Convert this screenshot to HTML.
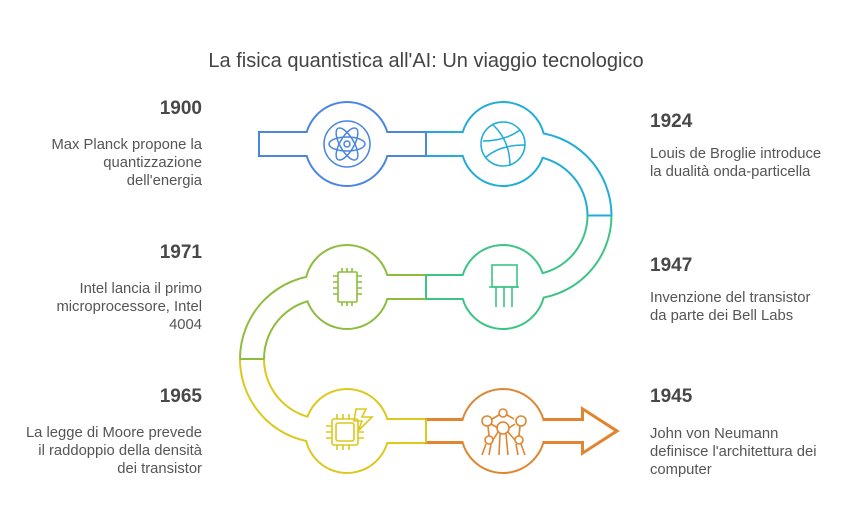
<!DOCTYPE html>
<html><head><meta charset="utf-8"><style>
body{margin:0;background:#fff;}
svg{display:block;font-family:"Liberation Sans",sans-serif;}
.y{font-size:19px;font-weight:bold;fill:#484848;}
.d{font-size:14.8px;fill:#555;}
</style></head><body>
<svg width="864" height="528" viewBox="0 0 864 528" xmlns="http://www.w3.org/2000/svg">
<text x="426" y="67" text-anchor="middle" font-size="20" fill="#444">La fisica quantistica all'AI: Un viaggio tecnologico</text>
<g fill="none" stroke-width="26">
<line x1="258" y1="144" x2="426" y2="144" stroke="#4a86e0"/>
<path d="M426,144 L528,144 A71.5,71.5 0 0 1 599.5,215.5" stroke="#22acd8"/>
<path d="M599.5,215.5 A71.5,71.5 0 0 1 528,287 L426,287" stroke="#3cc484"/>
<path d="M426,287 L324,287 A72,72 0 0 0 252,359" stroke="#8dbd3c"/>
<path d="M252,359 A72,72 0 0 0 324,431 L426,431" stroke="#dcc81e"/>
</g>
<path d="M426,419 L582,419 L582,408 L618,431 L582,454 L582,443 L426,443 Z" fill="#e08530" stroke="#e08530" stroke-width="2" stroke-linejoin="miter"/>
<circle cx="347" cy="144" r="43" fill="#4a86e0"/>
<circle cx="503" cy="144" r="43" fill="#22acd8"/>
<circle cx="503" cy="287" r="43" fill="#3cc484"/>
<circle cx="347" cy="287" r="43" fill="#8dbd3c"/>
<circle cx="347" cy="431" r="43" fill="#dcc81e"/>
<circle cx="503" cy="431" r="43" fill="#e08530"/>
<g fill="none" stroke="#fff" stroke-width="22">
<line x1="260" y1="144" x2="426" y2="144"/>
<path d="M426,144 L528,144 A71.5,71.5 0 0 1 528,287 L426,287"/>
<path d="M426,287 L324,287 A72,72 0 0 0 324,431 L426,431"/>
</g>
<path d="M426,421 L584,421 L584,411.5 L614,431 L584,450.5 L584,441 L426,441 Z" fill="#fff"/>
<g fill="#fff">
<circle cx="347" cy="144" r="41"/><circle cx="503" cy="144" r="41"/><circle cx="503" cy="287" r="41"/>
<circle cx="347" cy="287" r="41"/><circle cx="347" cy="431" r="41"/><circle cx="503" cy="431" r="41"/>
</g>
<g stroke-width="2">
<line x1="426" y1="132" x2="426" y2="156" stroke="#4a86e0"/>
<line x1="588" y1="215.5" x2="612" y2="215.5" stroke="#22acd8"/>
<line x1="426" y1="275" x2="426" y2="299" stroke="#3cc484"/>
<line x1="240" y1="359" x2="264" y2="359" stroke="#8dbd3c"/>
<line x1="426" y1="419" x2="426" y2="443" stroke="#dcc81e"/>
</g>
<g fill="none" stroke="#4a86e0" stroke-width="1.5">
<circle cx="347" cy="144" r="23"/>
<ellipse cx="347" cy="144" rx="18" ry="7"/>
<ellipse cx="347" cy="144" rx="18" ry="7" transform="rotate(60 347 144)"/>
<ellipse cx="347" cy="144" rx="18" ry="7" transform="rotate(-60 347 144)"/>
<circle cx="347" cy="144" r="3"/>
</g>
<g fill="none" stroke="#22acd8" stroke-width="1.5">
<circle cx="503" cy="144" r="22"/>
<path d="M483,141 Q505,141 520,130"/><path d="M486,157 Q500,145 525,145"/><path d="M492,124 Q510,140 510,166"/>
</g>
<g fill="none" stroke="#3cc484" stroke-width="1.6">
<rect x="492" y="265" width="25" height="22"/><line x1="489" y1="287" x2="519" y2="287"/>
<line x1="496" y1="287" x2="496" y2="307"/><line x1="504" y1="287" x2="504" y2="307"/><line x1="512" y1="287" x2="512" y2="307"/>
</g>
<g fill="none" stroke="#8dbd3c" stroke-width="1.6">
<rect x="338" y="272" width="19" height="30" rx="1"/>
<path d="M342,268v4M347,268v4M352,268v4M342,302v4M347,302v4M352,302v4M333,276h5M333,282h5M333,288h5M333,294h5M357,276h5M357,282h5M357,288h5M357,294h5"/>
</g>
<g fill="none" stroke="#dcc81e" stroke-width="1.6">
<rect x="336" y="423" width="18" height="18" rx="2"/><rect x="332" y="419" width="26" height="26" rx="2"/>
<path d="M337,414v5M343,414v5M349,414v5M337,445v5M343,445v5M349,445v5M326,426h6M326,432h6M326,438h6M358,438h6M358,432h6"/>
<path d="M356,409 L366,409 L362,417 L372,417 L358,431 L362,421 L354,421 Z"/>
</g>
<g fill="none" stroke="#e08530" stroke-width="1.6">
<circle cx="503" cy="413" r="4"/><circle cx="487" cy="421" r="5"/><circle cx="521" cy="421" r="5"/>
<circle cx="503" cy="428" r="6"/><circle cx="489" cy="440" r="4"/><circle cx="519" cy="440" r="4"/>
<path d="M492,419L499,415M514,419L507,415M491,424L498,428M515,424L509,428M488,426L489,436M520,426L519,436M493,440L498,432M515,440L508,432M486,444L482,455M491,444L489,455M516,444L518,455M521,444L525,455M500,434L499,455M506,434L508,455"/>
</g>
<g text-anchor="end">
<text class="y" x="202" y="114">1900</text>
<text class="d" x="202" y="149">Max Planck propone la</text>
<text class="d" x="202" y="167">quantizzazione</text>
<text class="d" x="202" y="185">dell'energia</text>
<text class="y" x="202" y="258">1971</text>
<text class="d" x="202" y="293">Intel lancia il primo</text>
<text class="d" x="202" y="311">microprocessore, Intel</text>
<text class="d" x="202" y="329">4004</text>
<text class="y" x="202" y="402">1965</text>
<text class="d" x="202" y="437">La legge di Moore prevede</text>
<text class="d" x="202" y="455">il raddoppio della densità</text>
<text class="d" x="202" y="473">dei transistor</text>
</g>
<text class="y" x="650" y="127">1924</text>
<text class="d" x="650" y="158">Louis de Broglie introduce</text>
<text class="d" x="650" y="176">la dualità onda-particella</text>
<text class="y" x="650" y="271">1947</text>
<text class="d" x="650" y="302">Invenzione del transistor</text>
<text class="d" x="650" y="320">da parte dei Bell Labs</text>
<text class="y" x="650" y="402">1945</text>
<text class="d" x="650" y="438">John von Neumann</text>
<text class="d" x="650" y="456">definisce l'architettura dei</text>
<text class="d" x="650" y="474">computer</text>
</svg>
</body></html>
